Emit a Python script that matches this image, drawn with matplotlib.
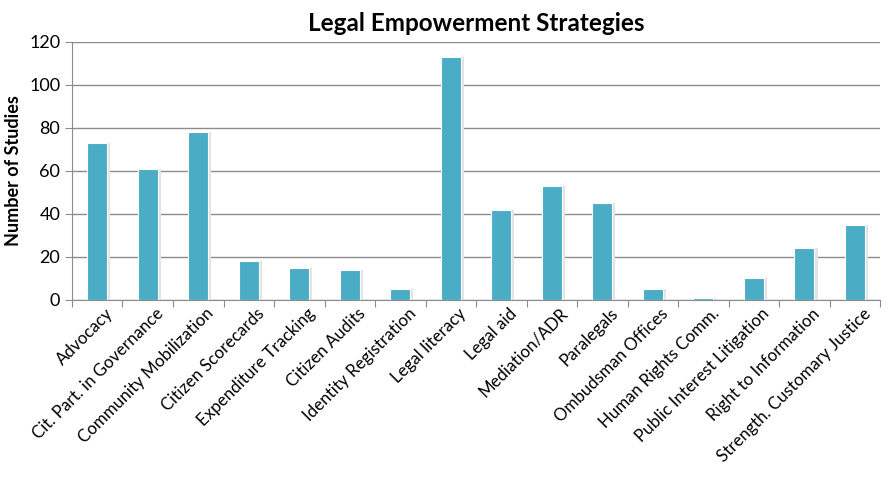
import matplotlib
matplotlib.use("Agg")
import matplotlib.pyplot as plt
import numpy as np

categories = ["Advocacy", "Cit. Part. in Governance", "Community Mobilization",
              "Citizen Scorecards", "Expenditure Tracking", "Citizen Audits",
              "Identity Registration", "Legal literacy", "Legal aid", "Mediation/ADR",
              "Paralegals", "Ombudsman Offices", "Human Rights Comm.",
              "Public Interest Litigation", "Right to Information",
              "Strength. Customary Justice"]
values = [73, 61, 78, 18, 15, 14, 5, 113, 42, 53, 45, 5, 1, 10, 24, 35]
yticks = [0, 20, 40, 60, 80, 100, 120]

plt.rcParams['font.family'] = ['Lato', 'DejaVu Sans']

fig = plt.figure(figsize=(8.92, 4.82), dpi=100)
ax = fig.add_axes([0.0807, 0.378, 0.906, 0.535])

x = np.arange(len(categories))
# soft shadow
ax.bar(x + 0.04, values, width=0.44, color='#e3e3e3', zorder=2)
ax.bar(x, values, width=0.4, color='#4bacc6', edgecolor='white', linewidth=0.8, zorder=3)

ax.set_xlim(-0.5, len(categories) - 0.5)
ax.set_ylim(0, 120)
ax.set_yticks(yticks)
ax.yaxis.grid(True, color='#8c8c8c', linewidth=1)
ax.set_axisbelow(True)
ax.set_xticks(np.arange(len(categories) + 1) - 0.5, minor=False)
ax.set_xticklabels([])
ax.set_xticks(x + 0.15, minor=True)
ax.set_xticklabels(categories, minor=True, rotation=45, ha='right', va='top',
                   rotation_mode='anchor', fontsize=12.2)
ax.tick_params(axis='x', which='minor', length=0, pad=4)
ax.tick_params(axis='x', which='major', length=5, color='#8c8c8c')
ax.tick_params(axis='y', length=5, color='#8c8c8c', labelsize=13)

for s in ['top', 'right']:
    ax.spines[s].set_visible(False)
for s in ['left', 'bottom']:
    ax.spines[s].set_color('#8c8c8c')

ax.set_ylabel('Number of Studies', fontsize=13, fontweight='bold', labelpad=5)
ax.set_title('Legal Empowerment Strategies', fontsize=17.5, fontweight='bold', pad=8)

fig.savefig('out.png', dpi=100)
